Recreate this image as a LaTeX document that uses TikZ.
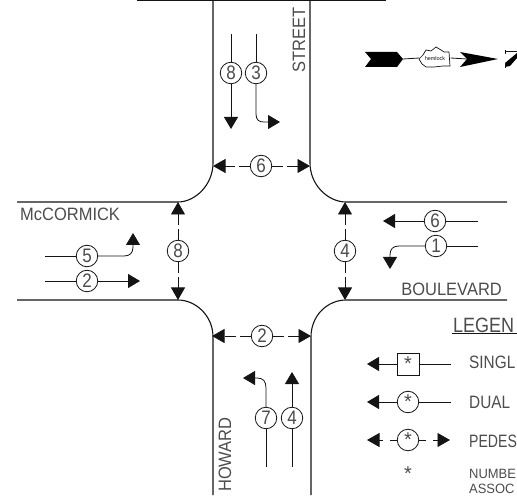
\documentclass[tikz,border=0pt]{standalone}
\usepackage{fontspec}
\usepackage{graphicx}
\setmainfont{Liberation Sans}
\usetikzlibrary{arrows.meta}
\definecolor{ink}{gray}{0.08}
\definecolor{txt}{gray}{0.3}
\newcommand{\fs}[1]{\fontsize{#1}{#1}\selectfont}
\newcommand{\tall}[1]{\scalebox{1}[1.15]{#1}}
\newcommand{\lbl}[1]{\scalebox{1.03}[1.12]{#1}}
\newcommand{\slim}[1]{\scalebox{0.88}[1.12]{#1}}
\newcommand{\midw}[1]{\scalebox{0.96}[1.12]{#1}}
\newcommand{\low}[1]{\scalebox{0.96}[1.0]{#1}}
\tikzset{
  x=1pt,y=-1pt,
  road/.style={draw=ink,line width=1.1pt},
  lin/.style={draw=ink,line width=0.8pt},
  arr/.style={lin,-{Triangle[length=12pt,width=14pt]}},
  ped/.style={lin,dash pattern=on 11pt off 4pt,-{Triangle[length=12.5pt,width=14pt]}},
  num/.style={circle,draw=ink,line width=0.8pt,minimum size=21.5pt,inner sep=0pt,fill=white,text=txt,font=\fs{17}},
  lab/.style={text=txt,font=\fs{16},inner sep=0pt},
}
\begin{document}
\begin{tikzpicture}
\useasboundingbox (0,0) rectangle (517,497);
% roads
\coordinate (nl) at (213,0); \coordinate (nr) at (310,0);
\coordinate (wt) at (17,202); \coordinate (wb) at (17,300);
\coordinate (et) at (507,202); \coordinate (eb) at (507,300);
\coordinate (sl) at (213,495); \coordinate (sr) at (311,495);
\coordinate (cnw) at (178,202); \coordinate (cne) at (346,202);
\coordinate (csw) at (178,300); \coordinate (cse) at (346,300);
\coordinate (nwr) at (213,163); \coordinate (ner) at (310,163);
\coordinate (swr) at (213,337); \coordinate (ser) at (311,337);
\draw[road] (nl) -- (nwr) .. controls (213,185) and (195,202) .. (cnw) -- (wt);
\draw[road] (nr) -- (ner) .. controls (310,185) and (328,202) .. (cne) -- (et);
\draw[road] (sl) -- (swr) .. controls (213,315) and (195,300) .. (csw) -- (wb);
\draw[road] (sr) -- (ser) .. controls (311,315) and (328,300) .. (cse) -- (eb);
\draw[road,line width=1.6pt] (137,0.5) -- (386,0.5);
% north approach
\node[num] (n8) at (231,73) {\tall{8}};
\node[num] (n3) at (256,73) {\tall{3}};
\coordinate (n8s) at (231,34); \coordinate (n8e) at (231,129);
\coordinate (n3s) at (256,34); \coordinate (n3e) at (280,122);
\draw[lin] (n8s) -- (n8); \draw[arr] (n8) -- (n8e);
\draw[lin] (n3s) -- (n3);
\draw[arr] (n3) -- (256,114) .. controls (256,120) and (259,122) .. (264,122) -- (n3e);
% south approach
\node[num] (s7) at (266,418) {\tall{7}};
\node[num] (s4) at (292,418) {\tall{4}};
\coordinate (s7s) at (266,467); \coordinate (s7e) at (243,378);
\coordinate (s4s) at (292,467); \coordinate (s4e) at (292,372);
\draw[lin] (s7s) -- (s7); \draw[lin] (s4s) -- (s4); \draw[arr] (s4) -- (s4e);
\draw[arr] (s7) -- (266,388) .. controls (266,381) and (263,378) .. (257,378) -- (s7e);
% west approach
\node[num] (w5) at (87,256) {\tall{5}};
\node[num] (w2) at (87,281) {\tall{2}};
\coordinate (w5s) at (45,256); \coordinate (w2s) at (45,281);
\coordinate (w5e) at (133,233); \coordinate (w2e) at (140,281);
\draw[lin] (w5s) -- (w5); \draw[lin] (w2s) -- (w2); \draw[arr] (w2) -- (w2e);
\draw[arr] (w5) -- (124,256) .. controls (130,256) and (133,253) .. (133,247) -- (w5e);
% east approach
\node[num] (e6) at (435,221) {\tall{6}};
\node[num] (e1) at (436,246) {\tall{1}};
\coordinate (e6s) at (478,221); \coordinate (e1s) at (478,246);
\coordinate (e6e) at (383,221); \coordinate (e1e) at (390,269);
\draw[lin] (e6s) -- (e6); \draw[lin] (e1s) -- (e1); \draw[arr] (e6) -- (e6e);
\draw[arr] (e1) -- (399,246) .. controls (393,246) and (390,249) .. (390,255) -- (e1e);
% pedestrian crossings
\node[num] (pn) at (261,166) {\tall{6}};
\node[num] (ps) at (262,336) {\tall{2}};
\node[num] (pw) at (178,251) {\tall{8}};
\node[num] (pe) at (345,251) {\tall{4}};
\coordinate (pnl) at (213,166); \coordinate (pnr) at (310,166);
\coordinate (psl) at (212,336); \coordinate (psr) at (311,336);
\coordinate (pwt) at (178,202); \coordinate (pwb) at (178,300);
\coordinate (pet) at (345,202); \coordinate (peb) at (345,300);
\foreach \c/\a/\b in {pn/pnl/pnr,ps/psl/psr,pw/pwt/pwb,pe/pet/peb}{
  \draw[ped] (\c) -- (\a); \draw[ped] (\c) -- (\b);
}
% road names
\node[lab,anchor=west] (mcc) at (20,214) {\lbl{McCORMICK}};
\node[lab,anchor=east] (bou) at (502,289) {\lbl{BOULEVARD}};
\node[lab,rotate=90,anchor=west] (how) at (225,492) {\lbl{HOWARD}};
\node[lab,rotate=90,anchor=west] (str) at (299,73) {\lbl{STREET}};
% north arrow
\fill[black] (365,52) -- (397,52) -- (403,59) -- (397,67) -- (365,67) -- (371,59) -- cycle;
\fill[black] (460,52) -- (498,59) -- (460,67) -- (467,59) -- cycle;
\node[inner sep=0pt,minimum width=31pt,minimum height=20pt] (cloud) at (435,58) {};
\coordinate (tailend) at (403,59); \coordinate (headstart) at (467,59);
\draw[lin] (tailend) -- (cloud.west); \draw[lin] (cloud.east) -- (headstart);
\draw[draw=ink,line width=0.7pt,fill=white] (419,59) -- (423,55) -- (426,50) -- (431,51) -- (436,47) -- (441,50) -- (444,52) -- (449,52) -- (450,66) -- (443,66) -- (434,67) -- (426,67) -- (422,64) -- cycle;
\node[font=\fs{5.5},text=ink,inner sep=0pt] (cloudtxt) at (435,59) {hemlock};
\draw[ink,line width=0.8pt] (505,50) -- (505,54) (505,51.5) -- (517,51.5);
\fill[black] (505,63) -- (517,53) -- (517,58) -- (510,66) -- (505,67) -- cycle;
\draw[ink,line width=0.8pt] (505,63) -- (505,68);
% legend
\node[text=txt,font=\fs{18},inner sep=0pt,anchor=west] (leg) at (453,325) {\tall{LEGEN}};
\draw[lin] (452,333.5) -- (517,333.5);
\node[draw=ink,line width=0.8pt,minimum size=22pt,inner sep=0pt,text=txt,font=\fs{20}] (l1) at (408,364) {\raisebox{-0.3em}{*}};
\node[num,font=\fs{20}] (l2) at (408,402) {\raisebox{-0.3em}{*}};
\node[num,font=\fs{20}] (l3) at (408,440) {\raisebox{-0.3em}{*}};
\node[text=txt,font=\fs{20},inner sep=0pt] (l4) at (408,474) {*};
\coordinate (l1a) at (367,364); \coordinate (l1b) at (451,364);
\coordinate (l2a) at (367,402); \coordinate (l2b) at (451,402);
\coordinate (l3a) at (367,440); \coordinate (l3b) at (450,440);
\draw[arr] (l1) -- (l1a); \draw[lin] (l1) -- (l1b);
\draw[arr] (l2) -- (l2a); \draw[lin] (l2) -- (l2b);
\draw[ped,dash pattern=on 7pt off 7pt] (l3) -- (l3a);
\draw[ped,dash pattern=on 7pt off 7pt] (l3) -- (l3b);
\node[lab,anchor=west] (t1) at (469,362) {\midw{SINGL}};
\node[lab,anchor=west] (t2) at (469,402) {\midw{DUAL}};
\node[lab,anchor=west] (t3) at (469,441) {\slim{PEDES}};
\node[lab,anchor=west,font=\fs{13.5}] (t4) at (469,474) {\low{NUMBE}};
\node[lab,anchor=west,font=\fs{13.5}] (t5) at (469,489) {\low{ASSOC}};
\end{tikzpicture}
\end{document}
